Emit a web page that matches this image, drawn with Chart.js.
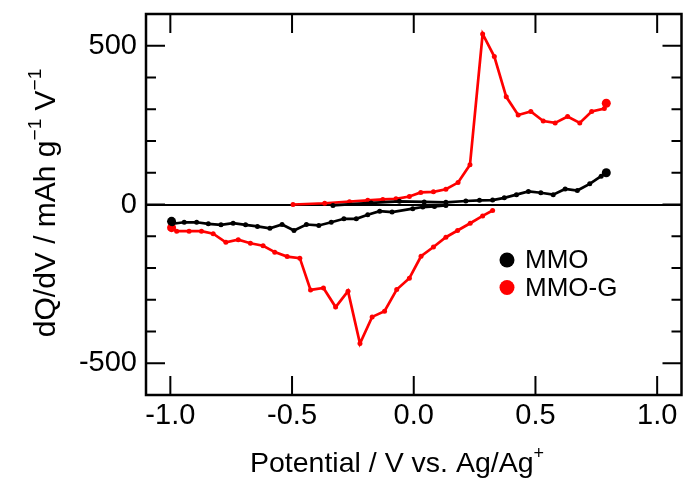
<!DOCTYPE html>
<html>
<head>
<meta charset="utf-8">
<script src="https://cdn.jsdelivr.net/npm/chart.js@4/dist/chart.umd.min.js"></script>
<style>
    html, body { margin: 0; padding: 0; background: #fff; }
    canvas { display: block; }
</style>
</head>
<body>
<canvas id="dqdvChart" width="686" height="495"></canvas>
<script>
const FONT = "'Liberation Sans', Arial, Helvetica, sans-serif";

// tick values
const xTicks = [-1.0, -0.5, 0.0, 0.5, 1.0];
const yTicks = [-500, 0, 500];
const yMinorTicks = [-400, -300, -200, -100, 100, 200, 300, 400];

// MMO (black): anodic branch, then cathodic branch
const mmoPosV = [-0.332, -0.175, -0.059, 0.043, 0.132, 0.214, 0.270, 0.324, 0.372, 0.422, 0.471, 0.522, 0.573, 0.622, 0.672, 0.723, 0.770, 0.791];
const mmoPosQ = [-3, 5, 10, 8, 7, 11, 13, 14, 21, 31, 41, 37, 31, 49, 44, 65, 89, 100];
const mmoNegV = [0.132, 0.085, 0.037, -0.004, -0.089, -0.140, -0.189, -0.236, -0.287, -0.339, -0.390, -0.441, -0.492, -0.541, -0.591, -0.642, -0.691, -0.742, -0.792, -0.844, -0.892, -0.943, -0.992, -0.995];
const mmoNegQ = [-3, -6, -8, -13, -24, -21, -32, -45, -45, -56, -66, -63, -82, -63, -75, -69, -64, -59, -64, -61, -56, -56, -61, -53];

// MMO-G (red)
const mmogPosV = [-0.496, -0.366, -0.264, -0.189, -0.127, -0.073, -0.018, 0.029, 0.081, 0.132, 0.182, 0.231, 0.283, 0.331, 0.380, 0.429, 0.481, 0.532, 0.581, 0.632, 0.682, 0.731, 0.783, 0.791];
const mmogPosQ = [0, 4, 9, 13, 16, 18, 25, 38, 40, 48, 69, 125, 537, 466, 339, 282, 293, 263, 257, 277, 257, 293, 302, 319];
const mmogNegV = [0.324, 0.283, 0.232, 0.180, 0.132, 0.081, 0.030, -0.018, -0.070, -0.120, -0.171, -0.221, -0.270, -0.321, -0.371, -0.424, -0.468, -0.520, -0.571, -0.619, -0.671, -0.721, -0.772, -0.824, -0.872, -0.923, -0.974, -0.995];
const mmogNegQ = [-19, -36, -59, -82, -103, -134, -163, -232, -268, -336, -354, -438, -273, -323, -263, -269, -169, -164, -150, -130, -122, -111, -119, -92, -84, -84, -84, -73];

// join two branches with a gap; last point of each branch gets a bigger dot
function branches(v1, q1, v2, q2) {
    const pts = [];
    const radius = [];
    v1.forEach((v, i) => { pts.push({ x: v, y: q1[i] }); radius.push(i === v1.length - 1 ? 4.5 : 2.5); });
    pts.push({ x: v1[v1.length - 1], y: null });
    radius.push(0);
    v2.forEach((v, i) => { pts.push({ x: v, y: q2[i] }); radius.push(i === v2.length - 1 ? 4.5 : 2.5); });
    return { pts, radius };
}

const mmo = branches(mmoPosV, mmoPosQ, mmoNegV, mmoNegQ);
const mmog = branches(mmogPosV, mmogPosQ, mmogNegV, mmogNegQ);

const framePlugin = {
    id: 'frame',
    afterDraw(chart) {
        const { ctx, chartArea: a, scales: { x, y } } = chart;
        ctx.save();
        ctx.strokeStyle = '#000';
        ctx.lineWidth = 2.5;
        ctx.strokeRect(a.left, a.top, a.right - a.left, a.bottom - a.top);

        ctx.lineWidth = 2;
        ctx.beginPath();
        xTicks.forEach(v => {
            const px = x.getPixelForValue(v);
            ctx.moveTo(px, a.bottom); ctx.lineTo(px, a.bottom - 19);
            ctx.moveTo(px, a.top); ctx.lineTo(px, a.top + 19);
        });
        yTicks.forEach(v => {
            const py = y.getPixelForValue(v);
            ctx.moveTo(a.left, py); ctx.lineTo(a.left + 19, py);
            ctx.moveTo(a.right, py); ctx.lineTo(a.right - 19, py);
        });
        yMinorTicks.forEach(v => {
            const py = y.getPixelForValue(v);
            ctx.moveTo(a.left, py); ctx.lineTo(a.left + 10, py);
            ctx.moveTo(a.right, py); ctx.lineTo(a.right - 10, py);
        });
        ctx.stroke();

        // legend
        ctx.font = '26px ' + FONT;
        ctx.textBaseline = 'middle';
        ctx.textAlign = 'left';
        chart.data.datasets.forEach((ds, i) => {
            const cy = 260 + i * 27.5;
            ctx.fillStyle = ds.borderColor;
            ctx.beginPath();
            ctx.arc(507, cy, 7.5, 0, Math.PI * 2);
            ctx.fill();
            ctx.fillStyle = '#000';
            ctx.fillText(ds.label, 525, cy + 1);
        });

        // axis titles with superscripts
        ctx.fillStyle = '#000';
        ctx.textBaseline = 'alphabetic';
        drawRich(ctx, [['Potential / V vs. Ag/Ag', 0], ['+', 1]], 397, 472, 0, 28.5);
        drawRich(ctx, [['dQ/dV / mAh g', 0], ['\u22121', 1], [' V', 0], ['\u22121', 1]], 55, 203, -Math.PI / 2, 30);
        ctx.restore();
    }
};

function drawRich(ctx, parts, cx, cy, rot, size) {
    const big = size + 'px ' + FONT;
    const small = Math.round(size * 0.64) + 'px ' + FONT;
    let total = 0;
    parts.forEach(([t, sup]) => { ctx.font = sup ? small : big; total += ctx.measureText(t).width; });
    ctx.save();
    ctx.translate(cx, cy);
    ctx.rotate(rot);
    let xPos = -total / 2;
    parts.forEach(([t, sup]) => {
        ctx.font = sup ? small : big;
        ctx.fillText(t, xPos, sup ? -size * 0.47 : 0);
        xPos += ctx.measureText(t).width;
    });
    ctx.restore();
}

new Chart(document.getElementById('dqdvChart'), {
    type: 'line',
    data: {
        datasets: [
            {
                label: 'MMO',
                data: mmo.pts,
                borderColor: '#000000',
                backgroundColor: '#000000',
                borderWidth: 2.7,
                pointRadius: mmo.radius,
                pointBorderWidth: 0,
                spanGaps: false,
                tension: 0,
            },
            {
                label: 'MMO-G',
                data: mmog.pts,
                borderColor: '#ff0000',
                backgroundColor: '#ff0000',
                borderWidth: 2.7,
                pointRadius: mmog.radius,
                pointBorderWidth: 0,
                spanGaps: false,
                tension: 0,
            },
        ],
    },
    options: {
        responsive: false,
        animation: false,
        devicePixelRatio: 1,
        layout: { padding: { top: 14, right: 1, left: 0, bottom: 0 } },
        scales: {
            x: {
                type: 'linear',
                min: -1.1,
                max: 1.1,
                afterBuildTicks: s => { s.ticks = xTicks.map(v => ({ value: v })); },
                afterFit: s => { s.height = 100; s.paddingLeft = 0; s.paddingRight = 0; },
                ticks: {
                    color: '#000',
                    font: { family: FONT, size: 29 },
                    padding: 4,
                    maxRotation: 0,
                    callback: v => v.toFixed(1),
                },
                grid: { display: false, drawTicks: false },
                border: { display: false },
            },
            y: {
                type: 'linear',
                min: -600,
                max: 600,
                afterBuildTicks: s => { s.ticks = yTicks.map(v => ({ value: v })); },
                afterFit: s => { s.width = 146; s.paddingTop = 0; s.paddingBottom = 0; },
                ticks: {
                    color: '#000',
                    font: { family: FONT, size: 29 },
                    padding: 9,
                    callback: v => String(v),
                },
                grid: {
                    drawTicks: false,
                    lineWidth: 2,
                    color: c => (c.tick && c.tick.value === 0 ? '#000' : 'rgba(0,0,0,0)'),
                },
                border: { display: false },
            },
        },
        plugins: {
            legend: { display: false },
            tooltip: { enabled: false },
        },
    },
    plugins: [framePlugin],
});
</script>
</body>
</html>
